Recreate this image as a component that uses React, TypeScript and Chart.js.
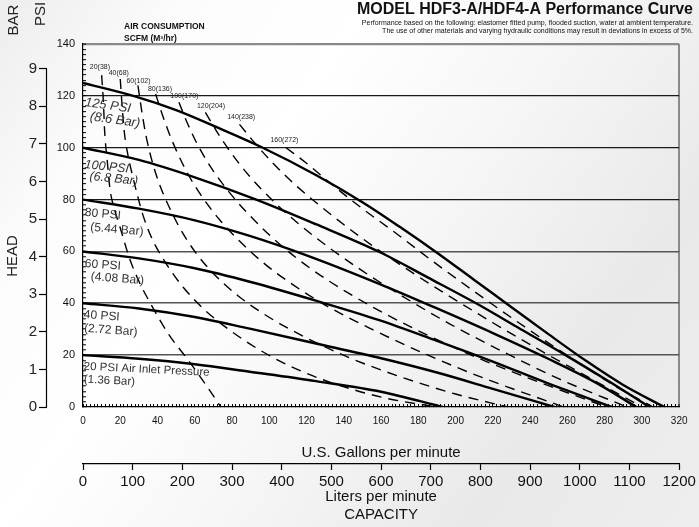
import React, { useEffect, useRef } from "react";
import { Chart, registerables } from "chart.js";

Chart.register(...registerables);

const FONT = "'Liberation Sans', Arial, Helvetica, sans-serif";

// ---- tick labels ----
const gpmMajorTicks = [0, 20, 40, 60, 80, 100, 120, 140, 160, 180, 200, 220, 240, 260, 280, 300, 320];
const psiMajorTicks = [0, 20, 40, 60, 80, 100, 120, 140];
const barTicks = [0, 1, 2, 3, 4, 5, 6, 7, 8, 9];
const literTicks = [0, 100, 200, 300, 400, 500, 600, 700, 800, 900, 1000, 1100, 1200];
const GPM_MINOR_STEP = 2;
const PSI_MINOR_STEP = 2;
const PSI_PER_BAR = 14.5;

// ---- air inlet pressure curves (GPM vs PSI head) ----
const curve125Gpm = [0, 27, 50, 71.5, 96.5, 125, 150, 170, 190, 210, 230, 250, 270, 290, 312];
const curve125Psi = [125, 120, 114.5, 108, 100, 89.5, 79, 69.5, 59.5, 49, 38.5, 28, 17.8, 8.5, 0];
const curve100Gpm = [0, 30, 60, 93, 125, 160, 185, 211, 235, 259, 282, 304];
const curve100Psi = [100, 95.3, 88.6, 80, 70.5, 59.5, 50, 40, 30, 20, 10, 0];
const curve80Gpm = [0, 30, 60, 89.5, 120, 159, 190, 220, 250, 275, 297];
const curve80Psi = [80, 76.5, 72, 66, 58.5, 47.5, 38, 28.5, 18.5, 9.5, 0];
const curve60Gpm = [0, 30, 60, 90, 125, 159, 190, 220, 250, 284];
const curve60Psi = [60, 57.3, 53.5, 48.2, 41, 33.5, 25.5, 17.5, 9, 0];
const curve40Gpm = [0, 30, 60, 89.5, 125, 160, 190, 220, 253];
const curve40Psi = [40, 38, 34.7, 30.2, 24.5, 18.8, 13.3, 7, 0];
const curve20Gpm = [0, 30, 60, 89.5, 125, 160, 193];
const curve20Psi = [20, 18.6, 16.5, 13.6, 10, 5.9, 0];

// ---- air consumption lines (SCFM) ----
const air20Gpm = [10, 11, 11.6, 13, 14.5, 17, 19.8, 25, 30, 35.7, 46, 56, 66, 74];
const air20Psi = [128, 117, 106.6, 95, 84, 76, 69.5, 57.3, 48.5, 40.6, 28, 18.5, 8.5, 0];
const air40Gpm = [20, 21, 22.3, 24, 26.8, 29.5, 32, 37, 44, 54, 66, 80, 96, 115, 137, 162, 190];
const air40Psi = [126.5, 116, 105.3, 97.6, 88.6, 80.9, 74.4, 65, 56, 46, 37, 29, 21.5, 14.5, 8.5, 3.5, 0];
const air60Gpm = [29.5, 30.5, 32, 34, 37, 41, 46, 52, 60, 70, 83, 99, 119, 143, 171, 200, 228];
const air60Psi = [124, 119, 112, 104, 95, 86, 77.5, 69, 60, 51.5, 43, 35, 27, 19, 11.5, 5, 0];
const air80Gpm = [39, 42, 46, 51, 57, 64, 73, 84, 97, 113, 132, 155, 182, 212, 258];
const air80Psi = [120.7, 114, 106, 97.5, 89, 81, 72.5, 64, 55.5, 47, 38.5, 30, 21, 12, 0];
const air100Gpm = [51.5, 56, 62, 70, 80, 92, 106, 122, 140, 162, 187, 215, 247, 281];
const air100Psi = [117.5, 109.5, 100.5, 91, 81.5, 72, 62.5, 53.5, 45, 36, 27, 18, 9, 0];
const air120Gpm = [65.7, 72, 80, 90, 102, 116, 132, 150, 172, 197, 225, 255, 292];
const air120Psi = [113.6, 106, 97.5, 88.5, 79.5, 70.5, 61.5, 52.5, 42.5, 32, 21.5, 11, 0];
const air140Gpm = [84, 92, 102, 115, 130, 148, 170, 195, 220, 245, 270, 300];
const air140Psi = [109, 102, 94, 85, 76, 66, 55, 43.5, 32.5, 22, 12, 0];
const air160Gpm = [109, 120, 135, 150, 168, 190, 215, 240, 265, 287, 306];
const air160Psi = [100, 94, 85, 76.5, 67, 55, 42, 29.5, 17.5, 7.5, 0];

const airLabels = ["20(38)", "40(68)", "60(102)", "80(136)", "100(170)", "120(204)", "140(238)", "160(272)"];
const airLabelGpm = [9.1, 19.2, 29.8, 41.3, 54.4, 68.7, 84.9, 108.1];
const airLabelPsi = [131, 128.8, 125.6, 122.6, 119.8, 116, 112, 103];

// ---- curve labels ----
const curveLabelText = [
  "125 PSI", "(8.6 Bar)", "100 PSI", "(6.8 Bar)", "80 PSI", "(5.44 Bar)",
  "60 PSI", "(4.08 Bar)", "40 PSI", "(2.72 Bar)", "20 PSI Air Inlet Pressure", "(1.36 Bar)",
];
const curveLabelGpm = [1.1, 3.8, 0.9, 3.5, 1.0, 3.9, 1.0, 4.2, 0.4, 0.6, 0.4, 0.5];
const curveLabelPsi = [117.5, 112, 93.5, 89, 75, 69.3, 55.3, 50.3, 35.6, 30.3, 15.6, 10.6];
const curveLabelAngle = [8, 8, 6, 6, 5, 5, 4.5, 4.5, 4, 4, 2.8, 2.8];
const curveLabelItalic = [true, true, true, true, false, false, false, false, false, false, false, false];
const curveLabelSize = [13, 13, 12.5, 12.5, 12, 12, 12, 12, 12, 12, 11.5, 11.5];

const TITLE = "MODEL HDF3-A/HDF4-A Performance Curve";
const SUB1 = "Performance based on the following: elastomer fitted pump, flooded suction, water at ambient temperature.";
const SUB2 = "The use of other materials and varying hydraulic conditions may result in deviations in excess of 5%.";

function pts(xs: number[], ys: number[]) {
  return xs.map((x, i) => ({ x, y: ys[i] }));
}

function solid(data: { x: number; y: number }[]) {
  return {
    data,
    showLine: true,
    borderColor: "#000",
    borderWidth: 2.4,
    pointRadius: 0,
    cubicInterpolationMode: "monotone" as const,
    fill: false,
  };
}

function dashed(data: { x: number; y: number }[]) {
  return {
    data,
    showLine: true,
    borderColor: "#000",
    borderWidth: 1.4,
    borderDash: [10, 7],
    pointRadius: 0,
    cubicInterpolationMode: "monotone" as const,
    fill: false,
  };
}

function minorRange(max: number, step: number) {
  const out: { value: number }[] = [];
  for (let v = 0; v <= max + 1e-9; v += step) out.push({ value: v });
  return out;
}

const annotatePlugin = {
  id: "annotate",
  afterDraw(chart: any) {
    const ctx: CanvasRenderingContext2D = chart.ctx;
    const xs = chart.scales.x;
    const ys = chart.scales.y;
    const yb = chart.scales.y2;
    ctx.save();

    // BAR axis line from 0 to 9 bar
    ctx.strokeStyle = "#000";
    ctx.lineWidth = 1.2;
    ctx.beginPath();
    const bx = yb.right - 0.5;
    ctx.moveTo(bx, yb.getPixelForValue(barTicks[barTicks.length - 1]));
    ctx.lineTo(bx, yb.getPixelForValue(0));
    ctx.stroke();

    const rot = (t: string, x: number, y: number, deg: number, font: string, align: CanvasTextAlign, color = "#000") => {
      ctx.save();
      ctx.translate(x, y);
      ctx.rotate((deg * Math.PI) / 180);
      ctx.font = font;
      ctx.fillStyle = color;
      ctx.textAlign = align;
      ctx.textBaseline = "middle";
      ctx.fillText(t, 0, 0);
      ctx.restore();
    };

    // axis titles
    rot("BAR", 14, 20, -90, `15px ${FONT}`, "center", "#222");
    rot("PSI", 41, 14, -90, `15px ${FONT}`, "center", "#222");
    rot("HEAD", 13, 256, -90, `15px ${FONT}`, "center", "#222");

    // header
    rot(TITLE, 693, 10, 0, `bold 16px ${FONT}`, "right", "#111");
    rot(SUB1, 693, 23.5, 0, `7px ${FONT}`, "right", "#111");
    rot(SUB2, 693, 31.5, 0, `7px ${FONT}`, "right", "#111");
    rot("AIR CONSUMPTION", 124, 27, 0, `bold 8.5px ${FONT}`, "left", "#111");
    rot("SCFM (M³/hr)", 124, 38.5, 0, `bold 8.5px ${FONT}`, "left", "#111");

    // air consumption labels
    airLabels.forEach((t, i) => {
      rot(t, xs.getPixelForValue(airLabelGpm[i]), ys.getPixelForValue(airLabelPsi[i]), 0, `7px ${FONT}`, "center", "#222");
    });

    // curve labels
    curveLabelText.forEach((t, i) => {
      const f = `${curveLabelItalic[i] ? "italic " : ""}${curveLabelSize[i]}px ${FONT}`;
      rot(t, xs.getPixelForValue(curveLabelGpm[i]), ys.getPixelForValue(curveLabelPsi[i]), curveLabelAngle[i], f, "left", "#333");
    });

    ctx.restore();
  },
};

export default function App() {
  const ref = useRef<HTMLCanvasElement | null>(null);

  useEffect(() => {
    if (!ref.current) return;
    const chart = new Chart(ref.current, {
      type: "scatter",
      data: {
        datasets: [
          dashed(pts(air20Gpm, air20Psi)),
          dashed(pts(air40Gpm, air40Psi)),
          dashed(pts(air60Gpm, air60Psi)),
          dashed(pts(air80Gpm, air80Psi)),
          dashed(pts(air100Gpm, air100Psi)),
          dashed(pts(air120Gpm, air120Psi)),
          dashed(pts(air140Gpm, air140Psi)),
          dashed(pts(air160Gpm, air160Psi)),
          solid(pts(curve125Gpm, curve125Psi)),
          solid(pts(curve100Gpm, curve100Psi)),
          solid(pts(curve80Gpm, curve80Psi)),
          solid(pts(curve60Gpm, curve60Psi)),
          solid(pts(curve40Gpm, curve40Psi)),
          solid(pts(curve20Gpm, curve20Psi)),
        ] as any,
      },
      options: {
        responsive: false,
        animation: false,
        events: [],
        layout: { padding: { top: 44, left: 0, right: 13, bottom: 0 } },
        plugins: { legend: { display: false }, tooltip: { enabled: false }, title: { display: false } },
        scales: {
          x: {
            type: "linear",
            position: "bottom",
            weight: 0,
            min: 0,
            max: gpmMajorTicks[gpmMajorTicks.length - 1],
            afterBuildTicks: (s: any) => {
              s.ticks = minorRange(gpmMajorTicks[gpmMajorTicks.length - 1], GPM_MINOR_STEP);
            },
            afterFit: (s: any) => {
              s.height = 57;
            },
            ticks: {
              autoSkip: false,
              maxRotation: 0,
              padding: 11.5,
              color: "#111",
              font: { family: FONT, size: 10 },
              callback: (v: any) => (gpmMajorTicks.includes(Number(v)) ? String(v) : ""),
            },
            grid: {
              drawOnChartArea: true,
              color: (c: any) => (c.tick && c.tick.value === 320 ? "#8a8a8a" : "rgba(0,0,0,0)"),
              lineWidth: (c: any) => (c.tick && c.tick.value === 320 ? 2 : 1),
              tickColor: "#000",
              tickLength: -3,
              tickWidth: 1,
            },
            border: { color: "#000", width: 1.2 },
            title: {
              display: true,
              text: "U.S. Gallons per minute",
              color: "#111",
              font: { family: FONT, size: 15 },
              padding: { top: 0, bottom: 2 },
            },
          },
          x2: {
            type: "linear",
            axis: "x",
            position: "bottom",
            weight: 1,
            min: 0,
            max: literTicks[literTicks.length - 1],
            afterBuildTicks: (s: any) => {
              s.ticks = literTicks.map((v) => ({ value: v }));
            },
            afterFit: (s: any) => {
              s.height = 63;
            },
            ticks: {
              autoSkip: false,
              maxRotation: 0,
              padding: 3,
              color: "#111",
              font: { family: FONT, size: 15 },
              callback: (v: any) => String(v),
            },
            grid: { drawOnChartArea: false, tickLength: 6, tickColor: "#000", tickWidth: 1.2 },
            border: { color: "#000", width: 1.2 },
            title: {
              display: true,
              text: ["Liters per minute", "CAPACITY"],
              color: "#111",
              font: { family: FONT, size: 15, lineHeight: 1.2 },
              padding: { top: 0, bottom: 3 },
            },
          },
          y: {
            type: "linear",
            position: "left",
            weight: 0,
            min: 0,
            max: psiMajorTicks[psiMajorTicks.length - 1],
            afterBuildTicks: (s: any) => {
              s.ticks = minorRange(psiMajorTicks[psiMajorTicks.length - 1], PSI_MINOR_STEP);
            },
            afterFit: (s: any) => {
              s.width = 36;
            },
            ticks: {
              autoSkip: false,
              padding: 11,
              color: "#111",
              font: { family: FONT, size: 11 },
              callback: (v: any) => (psiMajorTicks.includes(Number(v)) ? String(v) : ""),
            },
            grid: {
              color: (c: any) => {
                const v = c.tick ? c.tick.value : -1;
                if (v === 140) return "#8a8a8a";
                if (v > 0 && v >= 80 && psiMajorTicks.includes(v)) return "#1a1a1a";
                if (v > 0 && psiMajorTicks.includes(v)) return "#555555";
                return "rgba(0,0,0,0)";
              },
              lineWidth: (c: any) => {
                const v = c.tick ? c.tick.value : -1;
                if (v === 140) return 2.2;
                if (v > 0 && v < 80) return 1.6;
                return 1.3;
              },
              tickColor: "#000",
              tickLength: -3,
              tickWidth: 1,
            },
            border: { color: "#000", width: 1.2 },
          },
          y2: {
            type: "linear",
            axis: "y",
            position: "left",
            weight: 1,
            min: 0,
            max: psiMajorTicks[psiMajorTicks.length - 1] / PSI_PER_BAR,
            afterBuildTicks: (s: any) => {
              s.ticks = barTicks.map((v) => ({ value: v }));
            },
            afterFit: (s: any) => {
              s.width = 47;
            },
            ticks: {
              autoSkip: false,
              padding: 2,
              color: "#222",
              font: { family: FONT, size: 15 },
              callback: (v: any) => String(v),
            },
            grid: { drawOnChartArea: false, tickLength: 8, tickColor: "#000", tickWidth: 1.2 },
            border: { display: false },
          },
        },
      } as any,
      plugins: [annotatePlugin],
    });
    return () => chart.destroy();
  }, []);

  return (
    <div
      style={{
        position: "absolute",
        left: 0,
        top: 0,
        width: 699,
        height: 527,
        overflow: "hidden",
        background:
          "linear-gradient(125deg, #ededed 0%, #fcfcfc 18%, #ffffff 35%, #f6f6f6 55%, #e9e9e9 78%, #eeeeee 100%)",
      }}
    >
      <canvas ref={ref} width={699} height={527} style={{ display: "block" }} />
    </div>
  );
}
